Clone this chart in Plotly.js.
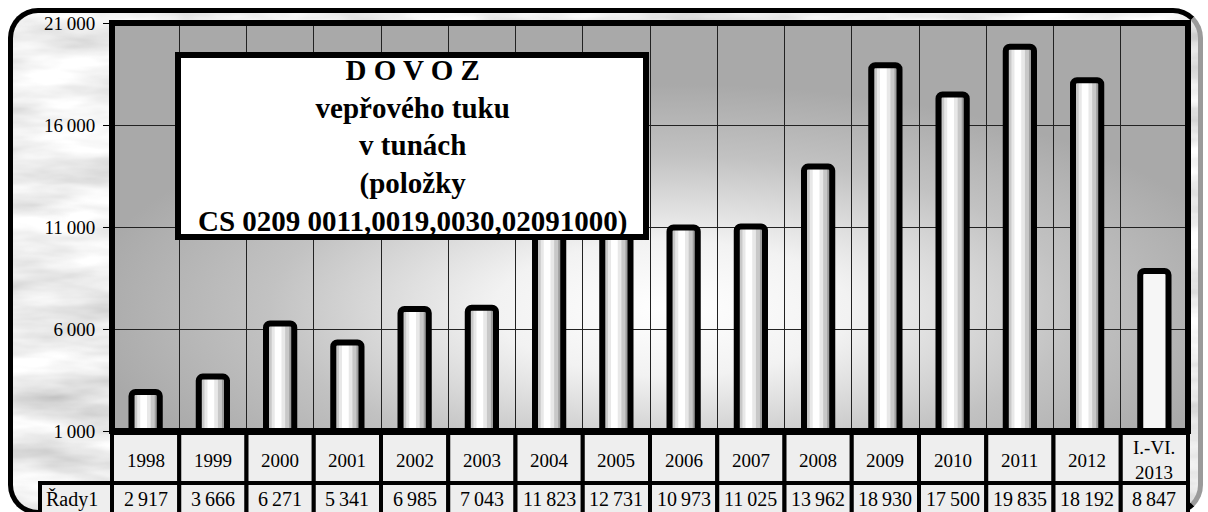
<!DOCTYPE html>
<html>
<head>
<meta charset="utf-8">
<script src="https://cdn.plot.ly/plotly-3.0.1.min.js"></script>
<style>
  html, body { margin: 0; padding: 0; background: #ffffff; }
  #wrap { position: relative; width: 1208px; height: 512px; overflow: hidden; }
  #frame {
    position: absolute; left: 8px; top: 8px; width: 1185px; height: 497px;
    border: 5px solid #000; border-right-color: #9a9a9a; border-radius: 30px;
    background-color: #e4e4e4;
  }
  #chart { position: absolute; left: 0; top: 0; width: 1208px; height: 512px; }
</style>
</head>
<body>
<div id="wrap">
  <div id="frame"></div>
  <div id="chart"></div>
</div>
<script>
// Data
const years = ['1998', '1999', '2000', '2001', '2002', '2003', '2004', '2005', '2006',
  '2007', '2008', '2009', '2010', '2011', '2012', 'I.-VI.<br>2013'];
const values = [2917, 3666, 6271, 5341, 6985, 7043, 11823, 12731, 10973,
  11025, 13962, 18930, 17500, 19835, 18192, 8847];
const seriesName = 'Řady1';
const yTicks = [1000, 6000, 11000, 16000, 21000];
const titleLines = ['D O V O Z', 'vepřového tuku', 'v tunách', '(položky',
  'CS 0209 0011,0019,0030,02091000)'];

const W = 1208, H = 512;
const margin = { l: 112, r: 20, t: 23, b: 81 };
const plotW = W - margin.l - margin.r;
const plotH = H - margin.t - margin.b;
const px = p => (p - margin.l) / plotW;
const py = p => (H - margin.b - p) / plotH;
const n = years.length;
const serif = 'Liberation Serif, Times New Roman, serif';

// marble-ish texture behind everything
const marble = "<svg xmlns='http://www.w3.org/2000/svg' width='1208' height='512'>" +
  "<filter id='f'><feTurbulence type='fractalNoise' baseFrequency='0.008 0.035' numOctaves='4' seed='7'/>" +
  "<feColorMatrix type='matrix' values='0.7 0 0 0 0.5  0.7 0 0 0 0.5  0.7 0 0 0 0.5  0 0 0 0 1'/></filter>" +
  "<rect width='100%' height='100%' filter='url(#f)'/></svg>";
document.getElementById('frame').style.backgroundImage =
  'url("data:image/svg+xml,' + encodeURIComponent(marble) + '")';

// radial light behind the bars
const glow = "<svg xmlns='http://www.w3.org/2000/svg' width='1076' height='408' viewBox='0 0 1076 408' preserveAspectRatio='none'>" +
  "<defs><radialGradient id='g' cx='0.52' cy='0.7' r='0.55'>" +
  "<stop offset='0' stop-color='#ffffff'/><stop offset='0.3' stop-color='#f2f2f2'/>" +
  "<stop offset='0.68' stop-color='#c2c2c2'/><stop offset='1' stop-color='#a9a9a9'/>" +
  "</radialGradient></defs><rect width='1076' height='408' fill='url(#g)'/></svg>";

// cylinder look: stacked strips, then the black outline on top
const barW = 0.42;
const strips = [
  { w: 0.42, c: '#9e9e9e', d: 0 },
  { w: 0.30, c: '#c8c8c8', d: -0.015 },
  { w: 0.20, c: '#e8e8e8', d: -0.025 },
  { w: 0.10, c: '#ffffff', d: -0.03 }
];

const traces = strips.map(s => ({
  type: 'bar', x: years, y: values, name: seriesName,
  width: s.w, offset: s.d - s.w / 2,
  marker: {
    color: values.map((v, i) => i === n - 1 ? '#f6f6f6' : s.c),
    line: { width: 0 }, cornerradius: 3
  },
  hoverinfo: 'skip'
}));
traces.push({
  type: 'bar', x: years, y: values, name: seriesName,
  width: barW, offset: -barW / 2,
  marker: { color: 'rgba(0,0,0,0)', line: { color: '#000', width: 6 }, cornerradius: 4 }
});

const fmt = v => String(v).replace(/\B(?=(\d{3})+(?!\d))/g, '\u2009');

// table under the plot
const shapes = [];
for (let k = 0; k < n; k++) {
  shapes.push({ type: 'rect', xref: 'paper', yref: 'paper', x0: k / n, x1: (k + 1) / n,
    y0: py(483), y1: py(433), fillcolor: '#eeeeee', line: { color: '#000', width: 4 } });
  shapes.push({ type: 'rect', xref: 'paper', yref: 'paper', x0: k / n, x1: (k + 1) / n,
    y0: py(522), y1: py(483), fillcolor: '#eeeeee', line: { color: '#000', width: 4 } });
}
shapes.push({ type: 'rect', xref: 'paper', yref: 'paper', x0: px(40), x1: 0,
  y0: py(522), y1: py(483), fillcolor: '#eeeeee', line: { color: '#000', width: 4 } });
// plot frame
shapes.push({ type: 'rect', xref: 'paper', yref: 'paper', x0: 0, x1: 1, y0: 0, y1: 1,
  fillcolor: 'rgba(0,0,0,0)', line: { color: '#000', width: 6 } });
// title box
shapes.push({ type: 'rect', xref: 'paper', yref: 'paper', x0: px(178), x1: px(646),
  y0: py(237), y1: py(55), fillcolor: '#ffffff', line: { color: '#000', width: 6 } });

const annotations = [];
years.forEach((yr, i) => {
  const cx = (i + 0.5) / n;
  annotations.push({ xref: 'paper', yref: 'paper', x: cx, y: py(460), text: yr, showarrow: false,
    xanchor: 'center', yanchor: 'middle', font: { family: serif, size: 19, color: '#000' } });
  annotations.push({ xref: 'paper', yref: 'paper', x: cx, y: py(499), text: fmt(values[i]), showarrow: false,
    xanchor: 'center', yanchor: 'middle', font: { family: serif, size: 20, color: '#000' } });
});
annotations.push({ xref: 'paper', yref: 'paper', x: px(72), y: py(499), text: seriesName, showarrow: false,
  xanchor: 'center', yanchor: 'middle', font: { family: serif, size: 20, color: '#000' } });
annotations.push({ xref: 'paper', yref: 'paper', x: px(412), y: py(146), text: titleLines.join('<br>'),
  showarrow: false, xanchor: 'center', yanchor: 'middle', align: 'center',
  font: { family: serif, size: 29, color: '#000', weight: 'bold' } });

const layout = {
  width: W, height: H, margin: margin,
  paper_bgcolor: 'rgba(0,0,0,0)', plot_bgcolor: 'rgba(0,0,0,0)',
  showlegend: false, barmode: 'overlay', separators: ',\u2009',
  xaxis: {
    type: 'category', range: [-0.5, n - 0.5], tickson: 'boundaries', showgrid: true,
    gridcolor: '#222', gridwidth: 1,
    showticklabels: false, ticks: '', showline: false, zeroline: false
  },
  yaxis: {
    range: [1000, 21000], tickvals: yTicks, tickformat: ',d', ticks: 'outside', ticklen: 8,
    tickcolor: '#000', tickwidth: 1, ticklabelstandoff: 4,
    showgrid: true, gridcolor: '#222', gridwidth: 1, showline: false, zeroline: false,
    tickfont: { family: serif, size: 19, color: '#000' }
  },
  images: [{
    source: 'data:image/svg+xml;base64,' + btoa(glow), xref: 'paper', yref: 'paper',
    x: 0, y: 1, sizex: 1, sizey: 1, sizing: 'stretch', layer: 'below', xanchor: 'left', yanchor: 'top'
  }],
  shapes: shapes,
  annotations: annotations
};

Plotly.newPlot('chart', traces, layout, { staticPlot: true, displayModeBar: false });
</script>
</body>
</html>
